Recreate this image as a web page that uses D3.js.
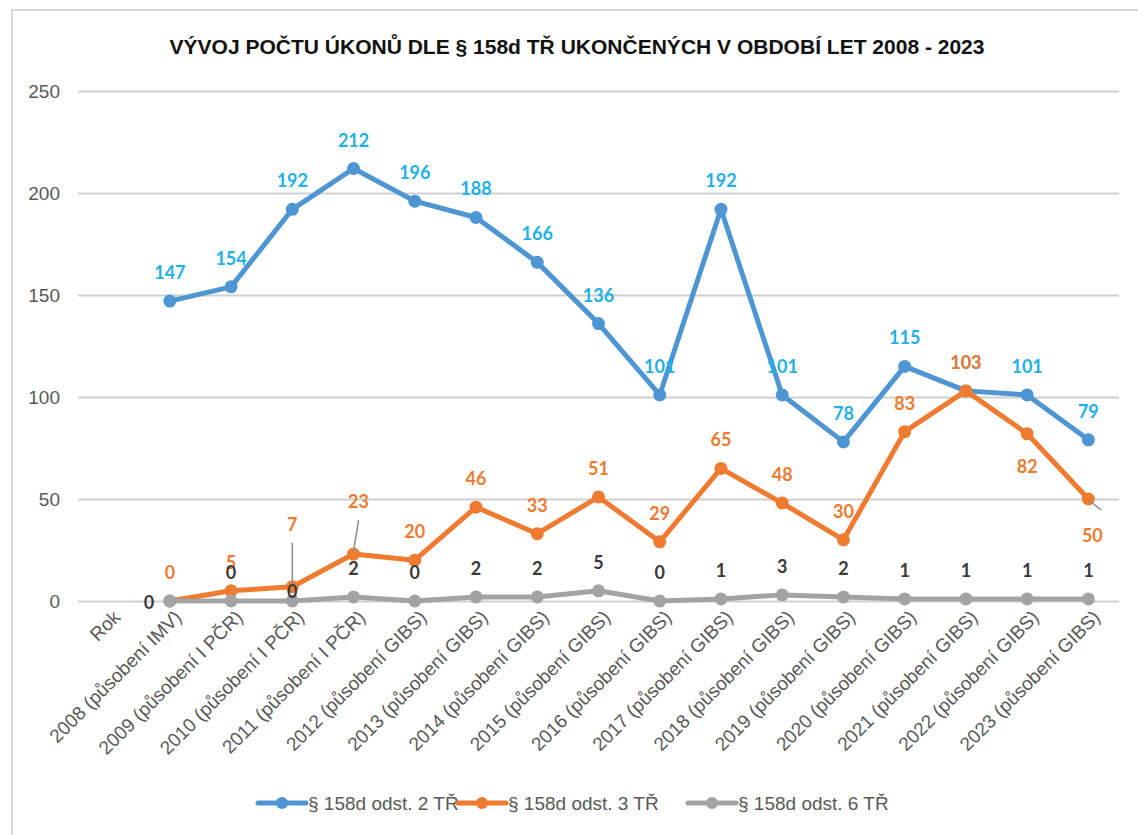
<!DOCTYPE html>
<html>
<head>
<meta charset="utf-8">
<script src="https://cdn.jsdelivr.net/npm/d3@7"></script>
<style>
  body { margin: 0; background: #fff; }
  svg { display: block; }
</style>
</head>
<body>
<div class="container"></div>
<script>
var categories = ["Rok", "2008 (působení IMV)", "2009 (působení I PČR)", "2010 (působení I PČR)",
  "2011 (působení I PČR)", "2012 (působení GIBS)", "2013 (působení GIBS)", "2014 (působení GIBS)",
  "2015 (působení GIBS)", "2016 (působení GIBS)", "2017 (působení GIBS)", "2018 (působení GIBS)",
  "2019 (působení GIBS)", "2020 (působení GIBS)", "2021 (působení GIBS)", "2022 (působení GIBS)",
  "2023 (působení GIBS)"];

var odst2 = [null, 147, 154, 192, 212, 196, 188, 166, 136, 101, 192, 101, 78, 115, 103, 101, 79];
var odst3 = [null, 0, 5, 7, 23, 20, 46, 33, 51, 29, 65, 48, 30, 83, 103, 82, 50];
var odst6 = [null, 0, 0, 0, 2, 0, 2, 2, 5, 0, 1, 3, 2, 1, 1, 1, 1];

var seriesNames = ["§ 158d odst. 2 TŘ", "§ 158d odst. 3 TŘ", "§ 158d odst. 6 TŘ"];
var yTicks = [0, 50, 100, 150, 200, 250];
var title = "VÝVOJ POČTU ÚKONŮ DLE § 158d TŘ UKONČENÝCH V OBDOBÍ LET 2008 - 2023";

const WIDTH = 1138;
const HEIGHT = 835;
const FONT = "'Liberation Sans', Arial, sans-serif";

var translate = function(x, y){
  return "translate(" + x + "," + y + ")";
};

var _xScale = d3.scalePoint()
  .domain(categories)
  .range([78, 1119])
  .padding(0.5);

var _yScale = d3.scaleLinear()
  .domain([0, 250])
  .range([601, 91]);

// label placement per series: [dx, dy] relative to the point, default above
var labelShift = [
  {},
  {3: [0, -56], 4: [5, -46], 15: [0, 39], 16: [4, 43]},
  {1: [-21, 8], 3: [0, -3]}
];
// leader lines for labels moved away from their point
var leaders = [
  {series: 1, i: 3},
  {series: 1, i: 4},
  {series: 1, i: 16}
];

var series = [
  {name: seriesNames[0], values: odst2, line: "#4e95d3", label: "#1fb0ea"},
  {name: seriesNames[1], values: odst3, line: "#ef7b30", label: "#ef7b30"},
  {name: seriesNames[2], values: odst6, line: "#a3a3a3", label: "#3a3a3a"}
];

var generateChart = function(){
  var svg = d3.select('.container').append('svg')
    .attr("width", WIDTH)
    .attr("height", HEIGHT)
    .style("font-family", FONT);

  svg.append("rect").attr("width", WIDTH).attr("height", HEIGHT).attr("fill", "#fff");

  // outer frame of the chart
  svg.append("rect")
    .attr("x", 12).attr("y", 10)
    .attr("width", WIDTH + 20).attr("height", HEIGHT + 20)
    .attr("fill", "none")
    .attr("stroke", "#d6d6d6")
    .attr("stroke-width", 2);

  svg.append("text")
    .attr("x", 577).attr("y", 54)
    .attr("text-anchor", "middle")
    .attr("font-size", 21)
    .attr("font-weight", "bold")
    .attr("fill", "#111")
    .attr("textLength", 815)
    .attr("lengthAdjust", "spacingAndGlyphs")
    .text(title);

  // gridlines + y labels
  var yAxis = d3.axisLeft(_yScale).tickValues(yTicks).tickSize(-(1119 - 78)).tickPadding(18);
  var gy = svg.append('g')
    .attr('transform', translate(78, 0))
    .call(yAxis);
  gy.select(".domain").remove();
  gy.selectAll(".tick line").attr("stroke", "#d0d0d0").attr("stroke-width", 2);
  gy.selectAll(".tick text")
    .attr("font-family", FONT)
    .attr("font-size", 19)
    .attr("fill", "#595959");

  // x labels
  var xAxis = d3.axisBottom(_xScale).tickSize(0);
  var gx = svg.append('g')
    .attr('transform', translate(0, 601))
    .call(xAxis);
  gx.select(".domain").remove();
  gx.selectAll(".tick text")
    .attr("font-family", FONT)
    .attr("font-size", 19)
    .attr("fill", "#595959")
    .attr("text-anchor", "end")
    .attr("transform", "translate(3,8) rotate(-45)")
    .attr("dy", "0.7em")
    .attr("y", 0);

  var plot = svg.append("g");

  series.forEach(function(s){
    var line = d3.line()
      .defined(function(d){ return d != null; })
      .x(function(d, i){ return _xScale(categories[i]); })
      .y(function(d){ return _yScale(d); });

    plot.append("path")
      .datum(s.values)
      .attr("d", line)
      .attr("fill", "none")
      .attr("stroke", s.line)
      .attr("stroke-width", 5)
      .attr("stroke-linejoin", "round");

    plot.selectAll(null)
      .data(s.values.map(function(v, i){ return {v: v, i: i}; }).filter(function(d){ return d.v != null; }))
      .enter().append("circle")
      .attr("cx", function(d){ return _xScale(categories[d.i]); })
      .attr("cy", function(d){ return _yScale(d.v); })
      .attr("r", 6.5)
      .attr("fill", s.line);
  });

  // leader lines
  leaders.forEach(function(l){
    var s = series[l.series];
    var sh = labelShift[l.series][l.i];
    var px = _xScale(categories[l.i]), py = _yScale(s.values[l.i]);
    var lx = px + sh[0], ly = py + sh[1] - 10;
    if (sh[1] < 0) {
      plot.append("line")
        .attr("x1", lx).attr("y1", ly + 22)
        .attr("x2", px).attr("y2", py - 3)
        .attr("stroke", "#8c8c8c").attr("stroke-width", 1.5);
    } else {
      plot.append("line")
        .attr("x1", px).attr("y1", py + 1)
        .attr("x2", px + 13).attr("y2", py + 11)
        .attr("stroke", "#8c8c8c").attr("stroke-width", 1.5);
    }
  });

  // data labels
  series.forEach(function(s, k){
    plot.selectAll(null)
      .data(s.values.map(function(v, i){ return {v: v, i: i}; }).filter(function(d){ return d.v != null; }))
      .enter().append("text")
      .attr("x", function(d){
        var sh = labelShift[k][d.i] || [0, -22];
        return _xScale(categories[d.i]) + sh[0];
      })
      .attr("y", function(d){
        var sh = labelShift[k][d.i] || [0, -22];
        return _yScale(d.v) + sh[1];
      })
      .attr("text-anchor", "middle")
      .attr("font-family", "Lato, 'Open Sans', sans-serif")
      .attr("font-size", 18)
      .attr("font-weight", "bold")
      .attr("fill", s.label)
      .text(function(d){ return d.v; });
  });

  // legend
  var legend = svg.append("g").attr("transform", translate(0, 803));
  var lx = [258, 458, 688];
  series.forEach(function(s, k){
    var g = legend.append("g").attr("transform", translate(lx[k], 0));
    g.append("line").attr("x1", 0).attr("x2", 48).attr("y1", 0).attr("y2", 0)
      .attr("stroke", s.line).attr("stroke-width", 5).attr("stroke-linecap", "round");
    g.append("circle").attr("cx", 24).attr("cy", 0).attr("r", 6).attr("fill", s.line);
    g.append("text").attr("x", 50).attr("y", 7)
      .attr("font-size", 19).attr("fill", "#595959")
      .text(s.name);
  });
}

window.onload = generateChart;
</script>
</body>
</html>
